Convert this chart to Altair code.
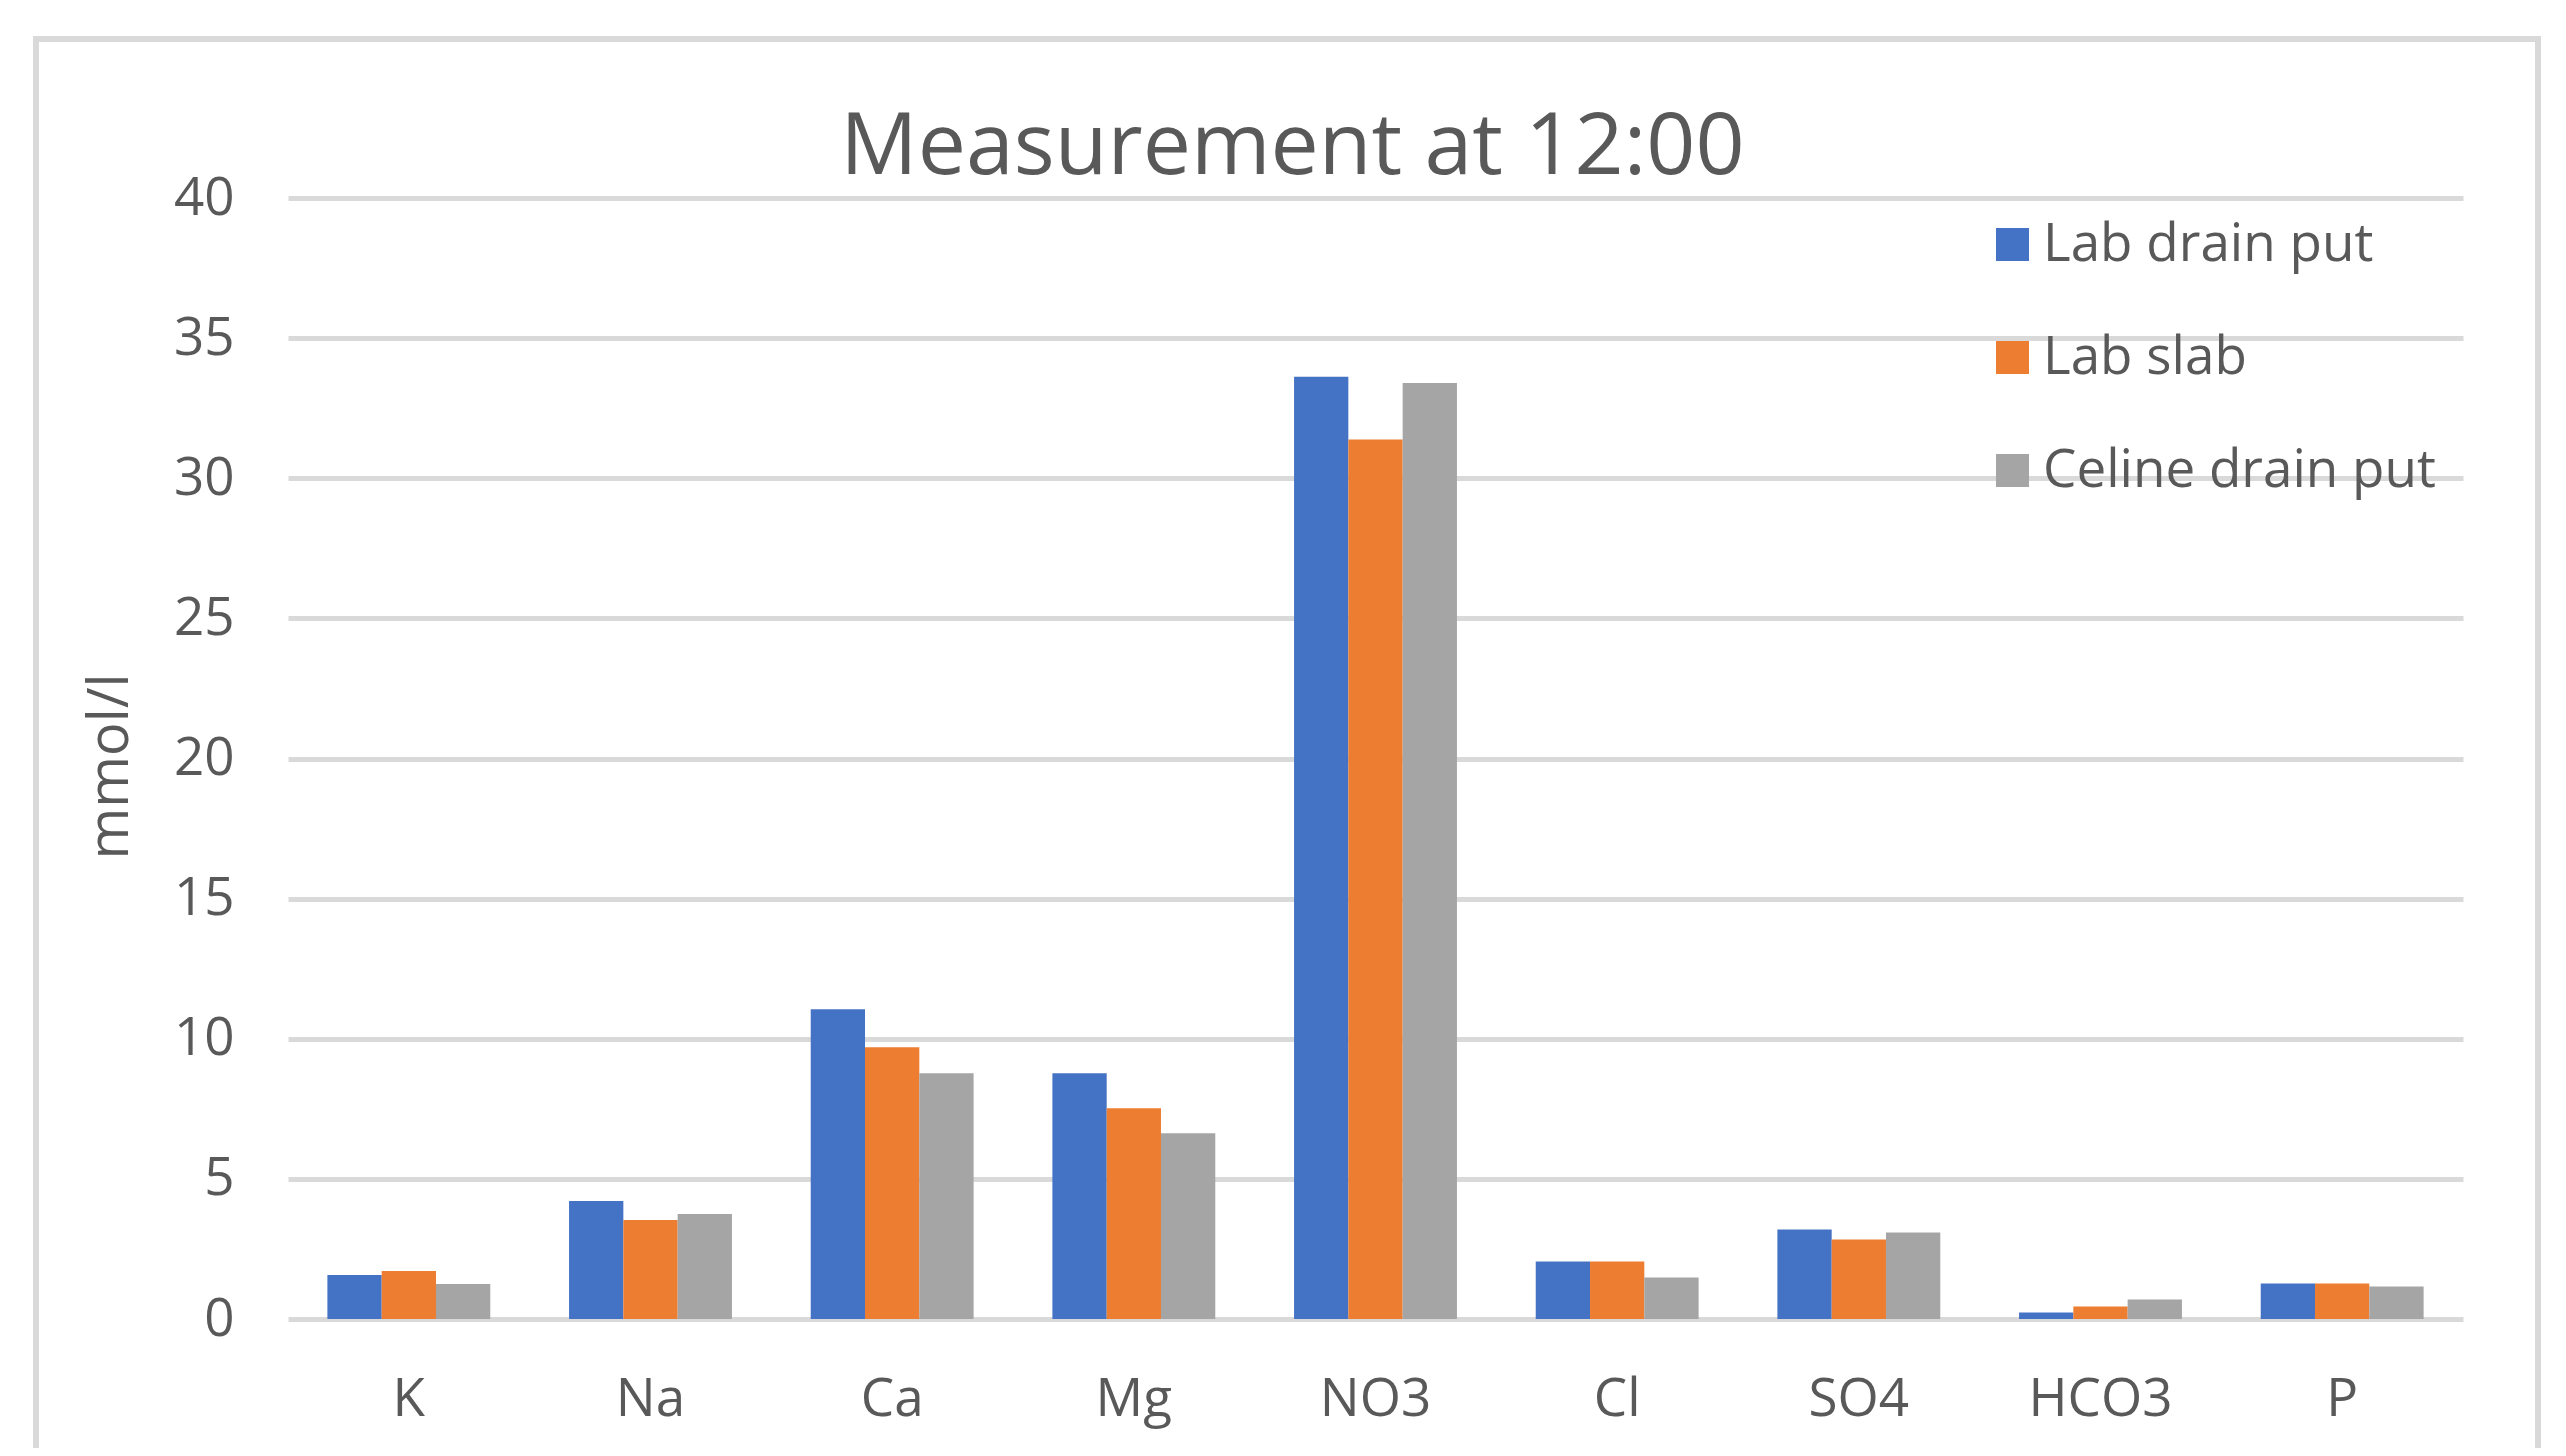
import altair as alt
import pandas as pd

categories = ["K", "Na", "Ca", "Mg", "NO3", "Cl", "SO4", "HCO3", "P"]
series = ["Lab drain put", "Lab slab", "Celine drain put"]
lab_drain_put = [1.57, 4.21, 11.05, 8.77, 33.62, 2.05, 3.19, 0.23, 1.27]
lab_slab = [1.71, 3.53, 9.70, 7.52, 31.38, 2.05, 2.84, 0.45, 1.27]
celine_drain_put = [1.25, 3.75, 8.77, 6.63, 33.40, 1.48, 3.09, 0.70, 1.16]
colors = ["#4472C4", "#ED7D31", "#A5A5A5"]
y_ticks = [0, 5, 10, 15, 20, 25, 30, 35, 40]

rows = []
for name, vals in zip(series, [lab_drain_put, lab_slab, celine_drain_put]):
    for c, v in zip(categories, vals):
        rows.append({"category": c, "series": name, "value": v})
df = pd.DataFrame(rows)

FONT = "Open Sans"
TXT = "#595959"
W, H = 2175, 1121

bars = alt.Chart(df).mark_bar().encode(
    x=alt.X("category:N", sort=categories,
            scale=alt.Scale(paddingInner=0.326, paddingOuter=0.163),
            axis=alt.Axis(title=None, labelAngle=0, ticks=False, domain=False,
                          labelFontSize=53, labelFont=FONT, labelColor=TXT,
                          labelPadding=54, grid=False)),
    xOffset=alt.XOffset("series:N", sort=series,
                        scale=alt.Scale(paddingInner=0, paddingOuter=0)),
    y=alt.Y("value:Q", scale=alt.Scale(domain=[0, 40], nice=False),
            axis=alt.Axis(values=y_ticks, title="mmol/l", ticks=False, domain=False,
                          labelFontSize=53, labelFont=FONT, labelColor=TXT,
                          labelPadding=54, grid=True, gridColor="#d9d9d9",
                          gridWidth=5, titleFont=FONT, titleFontSize=56,
                          titleColor=TXT, titleFontWeight="normal",
                          titleX=-161, titleY=568, titleAngle=270,
                          titleBaseline="alphabetic", titleAlign="center")),
    color=alt.Color("series:N", sort=series,
                    scale=alt.Scale(domain=series, range=colors),
                    legend=alt.Legend(title=None, orient="none", legendX=1698,
                                      legendY=20, direction="vertical",
                                      symbolType="square", symbolSize=1089,
                                      symbolStrokeWidth=0, labelFontSize=53,
                                      labelFont=FONT, labelColor=TXT,
                                      labelOffset=4, rowPadding=59,
                                      labelLimit=600)),
)

frame = alt.Chart(pd.DataFrame({"f": [0]})).mark_rect(
    fillOpacity=0, stroke="#d9d9d9", strokeWidth=6
).encode(
    x=alt.value(-252), x2=alt.value(2250), y=alt.value(-159), y2=alt.value(1400)
)

chart = alt.layer(frame, bars).properties(
    width=W, height=H,
    title=alt.TitleParams("Measurement at 12:00", fontSize=86, font=FONT,
                          color=TXT, fontWeight="normal", anchor="middle",
                          frame="group", dx=-83, offset=-224,
                          baseline="alphabetic"),
    autosize=alt.AutoSizeParams(type="none"),
    padding={"left": 280, "top": 190, "right": 95, "bottom": 129},
).configure_view(stroke=None)

chart.save("out.html", embed_options={"renderer": "svg", "actions": False})
